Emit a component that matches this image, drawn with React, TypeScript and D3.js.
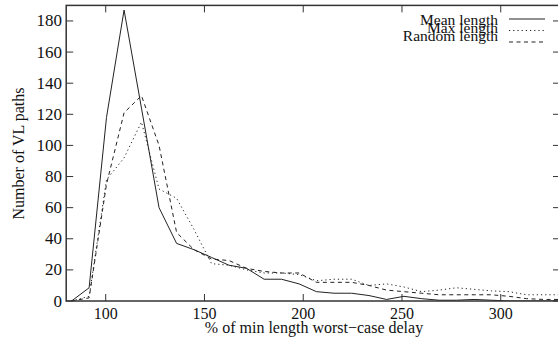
import React from "react";
import * as d3 from "d3";

const xValues = [82.7, 91.6, 100.4, 109.3, 118.1, 127.0, 135.9, 144.7, 153.6, 162.4, 171.3, 180.2, 189.0, 197.9, 206.7, 215.6, 224.5, 233.3, 242.2, 251.0, 259.9, 268.8, 277.6, 286.5, 295.3, 304.2, 313.1, 321.9, 330.8];
const meanLength = [0, 8.5, 118, 187, 124, 60, 37, 33, 28, 23, 21, 14, 14, 11, 6, 5, 5, 3.5, 1, 3, 1.5, 0.5, 0.5, 1, 0.5, 0, 0, 0, 0];
const maxLength = [0, 3, 78, 92, 115, 72, 66, 46, 24, 23, 20, 18, 18, 17, 13, 14, 14, 10, 11, 9, 6, 7, 8.5, 7.5, 6.5, 6, 4, 4, 4];
const randomLength = [0, 2, 75, 121, 132, 100, 44, 33, 27, 26, 21, 19, 18, 18, 12, 12, 12, 10, 7, 6, 5, 4, 4, 4, 4, 3, 1.5, 1, 1];

const seriesNames = ["Mean length", "Max length", "Random length"];
const xTicks = [100, 150, 200, 250, 300];
const yTicks = [0, 20, 40, 60, 80, 100, 120, 140, 160, 180];

const W = 558;
const H = 343;
const left = 66.2;
const right = 560;
const top = 5.4;
const bottom = 301;

export default function App() {
  const x = d3.scaleLinear().domain([80, 330]).range([left, right]);
  const y = d3.scaleLinear().domain([0, 190]).range([bottom, top]);
  const series = [meanLength, maxLength, randomLength];
  const dashes = ["none", "1.2,3", "4,3.5"];
  const line = (vals: number[]) =>
    d3
      .line<number>()
      .x((_, i) => x(xValues[i]))
      .y((d) => y(d))(vals) || "";
  const font = "'Liberation Serif', 'Times New Roman', serif";
  const stroke = "#222";
  const legendY = [19, 30.5, 42];
  const legendTextY = [24.5, 32.8, 41];
  return (
    <svg
      width={W}
      height={H}
      style={{ position: "absolute", left: 0, top: 0, background: "#fff" }}
      fontFamily={font}
    >
      <defs>
        <clipPath id="plot">
          <rect x={left} y={top} width={right - left} height={bottom - top} />
        </clipPath>
      </defs>
      {/* ticks */}
      {xTicks.map((t) => (
        <g key={"xt" + t}>
          <line x1={x(t)} x2={x(t)} y1={bottom} y2={bottom - 7} stroke="#333" strokeWidth={1} />
          <line x1={x(t)} x2={x(t)} y1={top} y2={top + 7} stroke="#333" strokeWidth={1} />
          <text x={x(t)} y={319} fontSize={16} textAnchor="middle" fill="#111">
            {t}
          </text>
        </g>
      ))}
      {yTicks.map((t) => (
        <g key={"yt" + t}>
          <line x1={left} x2={left + 7} y1={y(t)} y2={y(t)} stroke="#333" strokeWidth={1} />
          <line x1={right} x2={right - 7} y1={y(t)} y2={y(t)} stroke="#333" strokeWidth={1} />
          <text x={62} y={y(t) + 5.5} fontSize={17} textAnchor="end" fill="#111">
            {t}
          </text>
        </g>
      ))}
      {/* data */}
      <g clipPath="url(#plot)">
        {series.map((s, i) => (
          <path
            key={i}
            d={line(s)}
            fill="none"
            stroke={stroke}
            strokeWidth={1}
            strokeDasharray={dashes[i]}
          />
        ))}
      </g>
      {/* border */}
      <rect x={left} y={top} width={right - left} height={bottom - top} fill="none" stroke="#333" strokeWidth={1.5} />
      {/* legend */}
      {seriesNames.map((n, i) => (
        <g key={n}>
          <text x={498} y={legendTextY[i]} fontSize={15.5} textAnchor="end" fill="#111">
            {n}
          </text>
          <line x1={509} x2={545} y1={legendY[i]} y2={legendY[i]} stroke={stroke} strokeWidth={1} strokeDasharray={dashes[i]} />
        </g>
      ))}
      {/* axis titles */}
      <text x={314} y={333} fontSize={16} textAnchor="middle" fill="#111">
        % of min length worst−case delay
      </text>
      <text
        transform={`translate(24, ${(87 + 220) / 2}) rotate(-90)`}
        fontSize={16}
        textAnchor="middle"
        fill="#111"
      >
        Number of VL paths
      </text>
    </svg>
  );
}
